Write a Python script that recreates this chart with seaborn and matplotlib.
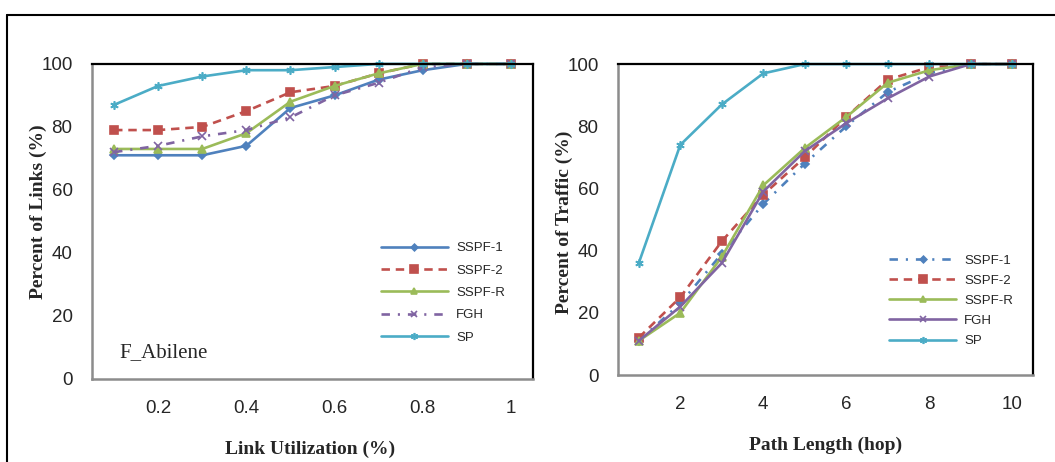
import matplotlib
matplotlib.use("Agg")
import matplotlib.pyplot as plt
from matplotlib.lines import Line2D
import seaborn as sns

# ---------------- data ----------------
util = [0.1, 0.2, 0.3, 0.4, 0.5, 0.6, 0.7, 0.8, 0.9, 1.0]
links_sspf1 = [71, 71, 71, 74, 86, 90, 95, 98, 100, 100]
links_sspf2 = [79, 79, 80, 85, 91, 93, 97, 100, 100, 100]
links_sspfr = [73, 73, 73, 78, 88, 93, 97, 100, 100, 100]
links_fgh = [72, 74, 77, 79, 83, 90, 94, 99, 100, 100]
links_sp = [87, 93, 96, 98, 98, 99, 100, 100, 100, 100]

hops = [1, 2, 3, 4, 5, 6, 7, 8, 9, 10]
traf_sspf1 = [11, 23, 39, 55, 68, 80, 91, 97, 100, 100]
traf_sspf2 = [12, 25, 43, 58, 70, 83, 95, 99, 100, 100]
traf_sspfr = [11, 20, 38, 61, 73, 83, 94, 98, 100, 100]
traf_fgh = [11, 22, 36, 59, 72, 81, 89, 96, 100, 100]
traf_sp = [36, 74, 87, 97, 100, 100, 100, 100, 100, 100]

series_names = ["SSPF-1", "SSPF-2", "SSPF-R", "FGH", "SP"]
left_x_ticks = [0.2, 0.4, 0.6, 0.8, 1.0]
left_x_ticklabels = ["0.2", "0.4", "0.6", "0.8", "1"]
right_x_ticks = [2, 4, 6, 8, 10]
y_ticks = [0, 20, 40, 60, 80, 100]

# ---------------- style ----------------
sns.set_style("white")
plt.rcParams["font.family"] = ["Liberation Sans", "DejaVu Sans"]

colors = {"SSPF-1": "#4F81BD", "SSPF-2": "#C0504D", "SSPF-R": "#9BBB59",
          "FGH": "#8064A2", "SP": "#4BACC6"}
markers = {"SSPF-1": "D", "SSPF-2": "s", "SSPF-R": "^", "FGH": "x", "SP": (6, 2, 0)}
msizes = {"SSPF-1": 4.0, "SSPF-2": 6.0, "SSPF-R": 5.5, "FGH": 5.5, "SP": 6.0}
dashed = (0, (3.2, 2.2))
dashdot = (0, (3.2, 3.0, 0.8, 3.0))
left_ls = {"SSPF-1": "-", "SSPF-2": dashed, "SSPF-R": "-", "FGH": dashdot, "SP": "-"}
right_ls = {"SSPF-1": dashdot, "SSPF-2": dashed, "SSPF-R": "-", "FGH": "-", "SP": "-"}

fig = plt.figure(figsize=(10.55, 4.62), dpi=100)
fig.patch.set_facecolor("white")
axL = fig.add_axes([0.0872, 0.1797, 0.418, 0.682])
axR = fig.add_axes([0.5858, 0.1883, 0.3934, 0.673])

left_data = [links_sspf1, links_sspf2, links_sspfr, links_fgh, links_sp]
right_data = [traf_sspf1, traf_sspf2, traf_sspfr, traf_fgh, traf_sp]

for name, vals in zip(series_names, left_data):
    sns.lineplot(x=util, y=vals, ax=axL, color=colors[name], marker=markers[name],
                 markersize=msizes[name], markeredgecolor=colors[name],
                 markerfacecolor=colors[name], markeredgewidth=1.2,
                 linestyle=left_ls[name], linewidth=1.9, label=name, clip_on=False)
for name, vals in zip(series_names, right_data):
    sns.lineplot(x=hops, y=vals, ax=axR, color=colors[name], marker=markers[name],
                 markersize=msizes[name], markeredgecolor=colors[name],
                 markerfacecolor=colors[name], markeredgewidth=1.2,
                 linestyle=right_ls[name], linewidth=1.9, label=name, clip_on=False)

tick_font = {"family": "Liberation Sans", "size": 13.5}
for ax in (axL, axR):
    ax.set_ylim(0, 100)
    ax.set_yticks(y_ticks)
    ax.set_yticklabels([str(v) for v in y_ticks], fontdict=tick_font)
    ax.tick_params(length=0)
    ax.tick_params(axis="y", pad=14)
    ax.tick_params(axis="x", pad=15)
    for s in ("top", "right"):
        ax.spines[s].set_color("black")
        ax.spines[s].set_linewidth(1.6)
        ax.spines[s].set_visible(True)
    for s in ("left", "bottom"):
        ax.spines[s].set_color("#8C8C8C")
        ax.spines[s].set_linewidth(1.8)
        ax.spines[s].set_visible(True)
    ax.grid(False)
    ax.set_facecolor("white")

axL.set_xlim(0.05, 1.05)
axL.set_xticks(left_x_ticks)
axL.set_xticklabels(left_x_ticklabels, fontdict=tick_font)
axR.set_xlim(0.5, 10.5)
axR.set_xticks(right_x_ticks)
axR.set_xticklabels([str(v) for v in right_x_ticks], fontdict=tick_font)

label_font = {"family": "Liberation Serif", "size": 14, "weight": "bold"}
axL.set_xlabel("Link Utilization (%)", fontdict=label_font)
axL.set_ylabel("Percent of Links (%)", fontdict=label_font)
axR.set_xlabel("Path Length (hop)", fontdict=label_font)
axR.set_ylabel("Percent of Traffic (%)", fontdict=label_font)
axL.xaxis.set_label_coords(0.494, -0.222)
axR.xaxis.set_label_coords(0.5, -0.225)
axL.yaxis.set_label_coords(-0.122, 0.532)
axR.yaxis.set_label_coords(-0.130, 0.49)
for ax in (axL, axR):
    ax.xaxis.label.set_va("center")
    ax.yaxis.label.set_va("center")

axL.text(0.062, 0.085, "F_Abilene", transform=axL.transAxes,
         fontfamily="Liberation Serif", fontsize=15, va="center", ha="left")

leg_kw = dict(frameon=False, borderpad=0, borderaxespad=0, handlelength=5.1,
              handletextpad=0.6, loc="upper left", markerscale=0.85,
              prop={"family": "Liberation Sans", "size": 9.5})
axL.legend(bbox_to_anchor=(0.655, 0.434), labelspacing=0.76, **leg_kw)
axR.legend(bbox_to_anchor=(0.653, 0.388), labelspacing=0.6, **leg_kw)

# outer chart frame (top and left edges visible)
fig.add_artist(Line2D([7 / 1055, 1.0], [1 - 14.5 / 462, 1 - 14.5 / 462],
                      transform=fig.transFigure, color="black", linewidth=1.5))
fig.add_artist(Line2D([7 / 1055, 7 / 1055], [0.0, 1 - 14.5 / 462],
                      transform=fig.transFigure, color="black", linewidth=1.5))

fig.savefig("out.png", dpi=100, facecolor="white")
